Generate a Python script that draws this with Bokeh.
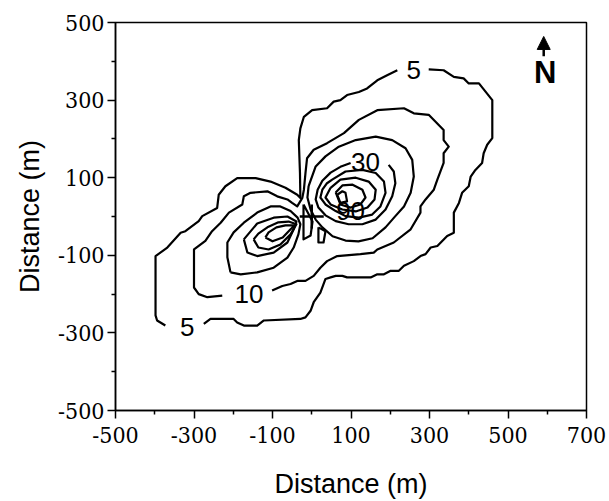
from bokeh.plotting import figure
from bokeh.models import FixedTicker, Label, Arrow, NormalHead, Title, Range1d
from bokeh.embed import file_html
from bokeh.resources import INLINE

SANS = "Liberation Sans"
SERIF = "DejaVu Serif Condensed"

# ---- axis ticks -------------------------------------------------------------
x_major = [-500, -300, -100, 100, 300, 500, 700]
x_minor = [-400, -200, 0, 200, 400, 600]
y_major = [-500, -300, -100, 100, 300, 500]
y_minor = [-400, -200, 0, 200, 400]
x_tick_labels = ["-500", "-300", "-100", "100", "300", "500", "700"]
y_tick_labels = ["-500", "-300", "-100", "100", "300", "500"]
axis_title = "Distance (m)"

# ---- contour lines (m), one list per level; open paths leave room for labels
# level 5: two pieces, split by the two "5" labels
c5a_x = [298, 336, 362, 387, 400, 426, 460, 460, 447, 438, 434, 417, 405, 400, 383, 375,
         362, 362, 345, 320, 303, 290, 277, 260, 235, 222, 201, 184, 167, 150, 90, 78,
         61, 48, 35, 22, 5, -3, -16, -29, -122, -139, -173, -190, -199, -258, -275]
c5a_y = [379, 377, 360, 356, 343, 343, 300, 202, 185, 163, 138, 120, 103, 78, 61, 35,
         10, -42, -50, -76, -80, -97, -102, -115, -127, -140, -140, -149, -149, -157, -157, -153,
         -153, -157, -161, -196, -221, -243, -260, -264, -268, -281, -281, -273, -264, -264, -277]
c5b_x = [-373, -394, -398, -398, -368, -334, -322, -288, -279, -241, -237, -220, -190, -143,
         -105, -67, -37, -29, -30, -33, -29, -20, 1, 39, 56, 73, 90, 120, 141, 167, 192, 218]
c5b_y = [-281, -268, -255, -102, -80, -42, -38, -12, 1, 22, 56, 78, 99, 99,
         90, 74, 56, 48, 112, 197, 227, 257, 274, 279, 296, 300, 313, 321, 330, 351, 364, 377]

# level 10
c10_x = [-101, -75, -54, -37, -16, 5, 22, 39, 65, 124, 158, 167, 209, 252, 277, 277, 290,
         311, 320, 336, 336, 349, 336, 336, 298, 260, 235, 167, 120, 82, 39, 5, -12, -16,
         -20, -24, -37, -50, -62, -88, -113, -156, -173, -177, -211, -232, -254, -271, -288,
         -300, -300, -288, -266, -228]
c10_y = [-191, -179, -174, -166, -166, -153, -132, -115, -102, -97, -93, -85, -67, -33, 10, 26, 44,
         69, 95, 138, 163, 180, 197, 223, 262, 266, 279, 274, 249, 215, 189, 172, 150, 112,
         69, 48, 26, 35, 44, 52, 65, 61, 52, 31, 10, -16, -38, -63, -76,
         -85, -183, -200, -208, -204]

# small pockets beside the source
p10a_x = [-21, -21, -3, 2, -21]
p10a_y = [31, -59, -49, -13, 31]
p10b_x = [17, 17, 30, 35, 17]
p10b_y = [-28, -67, -67, -38, -28]

# level 20 (north-east and south-west lobes)
c20n_x = [-8, 10, 35, 69, 112, 163, 205, 239, 256, 260, 252, 235, 213, 188, 155, 119, 86, 53,
          27, 10, -3, -11, -8]
c20n_y = [78, 129, 155, 180, 197, 206, 197, 176, 146, 103, 61, 26, 1, -28, -56, -64, -62, -51,
          -28, -8, 18, 49, 78]
c20s_x = [-207, -215, -215, -199, -173, -139, -105, -80, -54, -36, -29, -34, -46, -62, -97,
          -139, -181, -207]
c20s_y = [-144, -105, -67, -41, -16, 10, 26, 26, 14, -3, -20, -46, -80, -106, -132,
          -144, -149, -144]

# level 30 (north-east lobe is labelled)
c30n_x = [196, 209, 213, 205, 188, 163, 129, 94, 61, 35, 17, 10, 15, 27, 48, 73, 99]
c30n_y = [133, 116, 86, 52, 18, -8, -20, -20, -12, 3, 23, 44, 69, 92, 113, 128, 138]
c30s_x = [-173, -164, -139, -97, -62, -46, -39, -62, -97, -139, -173]
c30s_y = [-59, -93, -102, -93, -67, -33, -13, 0, -3, -18, -59]

# level 40
c40n_x = [52, 86, 129, 163, 184, 188, 175, 154, 120, 86, 61, 35, 22, 27, 38, 52]
c40n_y = [95, 116, 120, 112, 90, 61, 26, 5, -3, 1, 14, 31, 49, 69, 85, 95]
c40s_x = [-148, -136, -110, -80, -54, -39, -59, -85, -113, -136, -148]
c40s_y = [-59, -80, -85, -72, -46, -20, -13, -15, -28, -44, -59]

# level 50
c50n_x = [48, 73, 112, 145, 163, 160, 142, 112, 78, 48, 35, 48]
c50n_y = [74, 95, 100, 90, 69, 44, 23, 13, 18, 31, 49, 74]
c50s_x = [-118, -100, -74, -54, -44, -67, -90, -110, -118]
c50s_y = [-54, -64, -54, -33, -23, -23, -28, -41, -54]

# level 60
c60_x = [61, 78, 104, 129, 137, 124, 99, 73, 61]
c60_y = [62, 80, 82, 69, 49, 31, 23, 31, 62]

# level 90
c90_x = [65, 78, 86, 90, 73, 65]
c90_y = [56, 65, 61, 39, 35, 56]

contour_xs = [c5a_x, c5b_x, c10_x, p10a_x, p10b_x, c20n_x, c20s_x, c30n_x, c30s_x,
              c40n_x, c40s_x, c50n_x, c50s_x, c60_x, c90_x]
contour_ys = [c5a_y, c5b_y, c10_y, p10a_y, p10b_y, c20n_y, c20s_y, c30n_y, c30s_y,
              c40n_y, c40s_y, c50n_y, c50s_y, c60_y, c90_y]

# contour level labels
label_levels = [5, 5, 10, 30, 90]
label_x = [260, -317, -160, 137, 99]
label_y = [377, -284, -200, 140, 15]

# source location
source_x = [0]
source_y = [0]

# north arrow placement (m)
north_x = 591
north_arrow_y = [413, 464]
north_label_y = 371

p = figure(width=609, height=501, output_backend="svg", toolbar_location=None,
           x_range=Range1d(-500, 700), y_range=Range1d(-500, 500),
           min_border_left=115, min_border_right=23, min_border_top=22, min_border_bottom=89)
p.background_fill_color = "white"
p.border_fill_color = "white"
p.grid.visible = False
p.outline_line_color = "black"
p.outline_line_width = 1.5

p.multi_line(xs=contour_xs, ys=contour_ys, line_color="black", line_width=2.2,
             line_join="round")

p.scatter(x=source_x, y=source_y, marker="cross", size=24, line_color="black",
          line_width=2.5, fill_color=None)

for lev, lx, ly in zip(label_levels, label_x, label_y):
    p.add_layout(Label(x=lx, y=ly, text=str(lev), text_align="center",
                       text_baseline="middle", text_font=SANS,
                       text_font_size="26px", text_color="black"))

p.add_layout(Arrow(x_start=north_x, y_start=north_arrow_y[0], x_end=north_x,
                   y_end=north_arrow_y[1], line_width=2.5, line_color="black",
                   end=NormalHead(size=13, fill_color="black", line_color="black")))
p.add_layout(Label(x=north_x + 4, y=north_label_y, text="N", text_align="center",
                   text_baseline="middle", text_font=SANS,
                   text_font_style="bold", text_font_size="31px", text_color="black"))

# axes
p.xaxis.ticker = FixedTicker(ticks=x_major, minor_ticks=x_minor)
p.yaxis.ticker = FixedTicker(ticks=y_major, minor_ticks=y_minor)
p.xaxis.major_label_overrides = dict(zip(x_major, x_tick_labels))
p.yaxis.major_label_overrides = dict(zip(y_major, y_tick_labels))
for ax in (p.xaxis, p.yaxis):
    ax.axis_line_width = 1.5
    ax.axis_line_color = "black"
    ax.major_tick_line_width = 1.5
    ax.minor_tick_line_width = 1.5
    ax.major_tick_line_color = "black"
    ax.minor_tick_line_color = "black"
    ax.major_tick_in = 0
    ax.major_tick_out = 8
    ax.minor_tick_in = 0
    ax.minor_tick_out = 4
    ax.major_label_text_font = SERIF
    ax.major_label_text_font_size = "23px"
    ax.major_label_text_color = "black"
p.xaxis.major_label_standoff = 8
p.yaxis.major_label_standoff = 3

p.xaxis.axis_label = axis_title
p.xaxis.axis_label_text_font = SANS
p.xaxis.axis_label_text_font_style = "normal"
p.xaxis.axis_label_text_font_size = "27px"
p.xaxis.axis_label_text_color = "black"
p.xaxis.axis_label_standoff = 23

p.add_layout(Title(text=axis_title, align="center", text_font=SANS,
                   text_font_style="normal", text_font_size="27px", offset=-24,
                   standoff=21, text_color="black"), "left")

open("out.html", "w").write(file_html(p, INLINE))
